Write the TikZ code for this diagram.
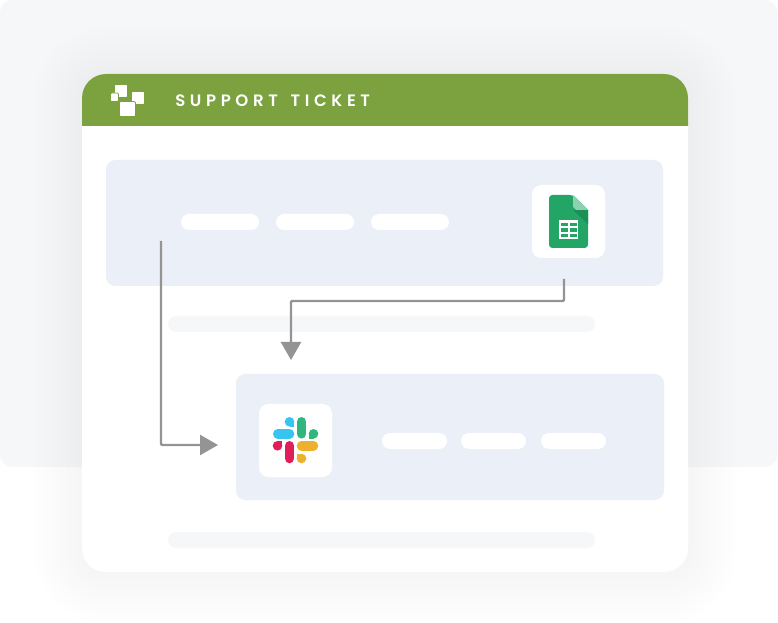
\documentclass[tikz,border=0pt]{standalone}
\usepackage{fontspec}
\usetikzlibrary{arrows.meta}
\newfontfamily\popfont[LetterSpace=28,WordSpace=1.5]{Poppins SemiBold}
\definecolor{panelbg}{HTML}{F6F7F9}
\definecolor{headgreen}{HTML}{7BA23F}
\definecolor{rowblue}{HTML}{EBEFF7}
\definecolor{barlight}{HTML}{F6F7F9}
\definecolor{linegray}{HTML}{949494}
\definecolor{sheetgreen}{HTML}{23A566}
\definecolor{sheetlight}{HTML}{8ED1B1}
\definecolor{sheetdark}{HTML}{1C8F57}
\definecolor{slblue}{HTML}{36C5F0}
\definecolor{slgreen}{HTML}{2EB67D}
\definecolor{slred}{HTML}{E01E5A}
\definecolor{slyellow}{HTML}{ECB22E}
\tikzset{
  boxbase/.style={inner sep=0pt,outer sep=0pt,draw=none},
  backpanel/.style={boxbase,fill=panelbg,rounded corners=9pt},
  cardbox/.style={boxbase,fill=white,rounded corners=18pt},
  rowbox/.style={boxbase,fill=rowblue,rounded corners=7pt},
  tilebox/.style={boxbase,fill=white,rounded corners=7pt},
  pillbox/.style={boxbase,fill=white,rounded corners=6pt},
  barbox/.style={boxbase,fill=barlight,rounded corners=6pt},
  logobox/.style={boxbase,fill=white,draw=headgreen,line width=0.5pt,rounded corners=0.8pt},
  flow/.style={draw=linegray,line width=1.85pt,-{Triangle[length=13.5pt,width=15pt]},rounded corners=0.8pt},
  slack/.style={line width=7.2pt,line cap=round},
}
\newcommand{\bx}[6]{\node[#6,minimum width={(#4-#2)*0.75pt},minimum height={(#5-#3)*0.75pt}] (#1) at ({(#2+#4)/2},{(#3+#5)/2}) {};}
\newcommand{\sldrop}[5]{\fill[#1] (#2,#3) circle[radius=4.8]; \fill[#1] (#2,#3) rectangle ({#2+#4*4.8},{#3+#5*4.8});}
\begin{document}
\begin{tikzpicture}[x=0.75pt,y=-0.75pt]
\useasboundingbox (0,0) rectangle (778,623);
\bx{back}{0}{0}{777}{467}{backpanel}
% soft shadow
\foreach \e in {5,10.5,...,50}{
  \fill[black,opacity=0.0045,rounded corners={(18+\e*0.75)*1pt}]
    ({82-\e},{74-\e+2}) rectangle ({688+\e},{572+\e+2});
}
\bx{card}{82}{74}{688}{572}{cardbox}
% header
\begin{scope}
\clip (82,74) rectangle (688,125.5);
\fill[headgreen,rounded corners=18pt] (82,74) rectangle (688,170);
\end{scope}
% logo
\bx{l1}{114.5}{84.5}{127.5}{97.5}{logobox}
\bx{l2}{110.5}{93}{118.5}{101.5}{logobox}
\bx{l3}{131.5}{91.5}{144.5}{104.5}{logobox}
\bx{l4}{119.5}{101.5}{135.5}{116.5}{logobox}
\node[text=white,inner sep=0pt,anchor=base west,font=\popfont\fontsize{12.4pt}{14pt}\selectfont] (title) at (175,107) {SUPPORT TICKET};
% rows
\bx{rowa}{106}{160}{663}{286}{rowbox}
\bx{rowb}{236}{374}{664}{500}{rowbox}
\bx{bara}{168}{316}{595}{332}{barbox}
\bx{barb}{168}{532}{595}{548}{barbox}
\bx{pa1}{181}{214}{259}{230}{pillbox}
\bx{pa2}{276}{214}{354}{230}{pillbox}
\bx{pa3}{371}{214}{449}{230}{pillbox}
\bx{pb1}{382}{433}{447}{449}{pillbox}
\bx{pb2}{461}{433}{526}{449}{pillbox}
\bx{pb3}{541}{433}{606}{449}{pillbox}
\bx{tilea}{532}{185}{605}{258}{tilebox}
\bx{tileb}{259}{404}{332}{477}{tilebox}
% sheets icon
\fill[sheetgreen,rounded corners=2.5pt] (549,248) -- (549,195) -- (573,195) [sharp corners] -- (588,210) [rounded corners=2.5pt] -- (588,248) -- cycle;
\fill[sheetdark] (573,210) -- (588,210) -- (588,224) -- cycle;
\fill[sheetlight] (573,195) -- (588,210) -- (576,210) -- (573,207) -- cycle;
\fill[white] (559,220) rectangle (578,239);
\foreach \cx in {561,570}{\foreach \cy in {222.7,228.3,233.9}{
  \fill[sheetgreen] (\cx,\cy) rectangle ({\cx+6.6},{\cy+3.4});}}
% slack icon
\draw[slack,slblue] (277.8,433.8) -- (289.5,433.8);
\sldrop{slblue}{289.5}{421.8}{1}{1}
\draw[slack,slgreen] (301.5,421.8) -- (301.5,433.8);
\sldrop{slgreen}{313.5}{433.8}{-1}{1}
\sldrop{slred}{277.5}{445.8}{1}{-1}
\draw[slack,slred] (289.5,445.8) -- (289.5,458.5);
\draw[slack,slyellow] (301.5,445.8) -- (313.5,445.8);
\sldrop{slyellow}{301.5}{458.5}{-1}{-1}
% connectors
\coordinate (s1) at (161,241);
\coordinate (e1) at (218,445);
\coordinate (s2) at (564,279);
\coordinate (e2) at (291,360);
\draw[flow] (s1) |- (e1);
\draw[flow] (s2) -- (564,301) -- (291,301) -- (e2);
\end{tikzpicture}
\end{document}
